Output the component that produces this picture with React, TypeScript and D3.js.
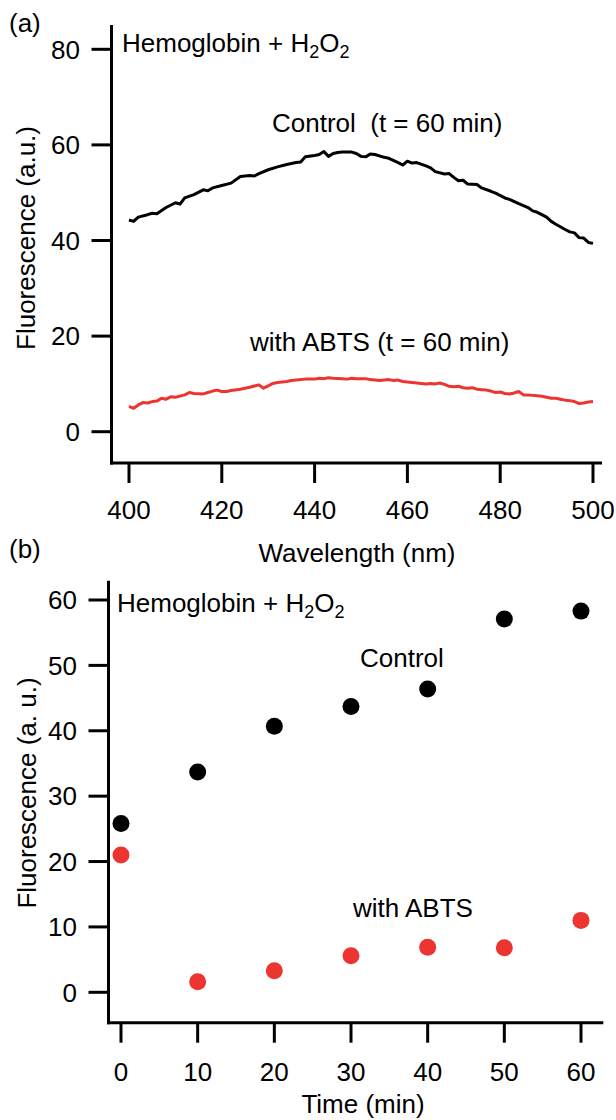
import React from "react";
import * as d3 from "d3";

// ---------- Panel (a) data: spectra at t = 60 min ----------
const wavelengthControl = [400,401,402,404,405,406,408,410,411,412,414,416,417,418,420,422,424,426,427,428,430,432,434,436,437,438,440,441,442,443,444,445,446,448,449,450,451,452,453,455,456,458,459,460,461,462,464,465,466,468,469,470,471,472,473,475,476,478,479,481,482,484,486,487,488,490,491,492,494,495,496,497,498,499,500];
const fluorControl = [44.3,44.0,44.9,45.4,45.7,45.6,46.9,47.9,47.6,48.9,49.6,50.6,50.4,51.0,51.5,52.0,53.4,53.6,53.5,54.0,54.8,55.4,55.9,56.3,56.4,57.5,57.8,58.0,58.6,57.6,58.2,58.4,58.5,58.5,58.2,57.6,57.5,58.1,58.0,57.4,57.2,56.3,55.8,56.6,56.2,56.3,55.6,55.2,54.4,53.9,54.0,53.2,52.5,52.6,51.8,51.7,51.0,50.3,49.9,48.9,48.6,47.7,46.9,46.2,45.9,44.9,44.0,43.4,42.3,41.8,41.6,40.6,40.5,39.6,39.4];

const wavelengthABTS = [400,401,402,403,404,405,406,407,408,409,410,412,413,414,416,417,418,419,420,421,422,424,425,426,428,429,430,431,432,434,435,436,438,440,441,442,443,444,446,447,448,449,450,451,452,453,454,455,456,457,458,459,460,461,462,463,464,465,466,467,468,469,470,471,472,473,474,475,476,477,478,479,480,481,482,483,484,485,486,487,488,489,490,491,492,493,494,495,496,497,498,499,500];
const fluorABTS = [5.3,4.9,5.6,6.1,6.0,6.3,6.4,7.0,6.8,7.3,7.2,7.7,8.2,8.0,7.9,8.2,8.5,8.7,8.4,8.4,8.6,8.9,9.1,9.3,9.8,9.1,9.6,10.1,10.3,10.5,10.7,10.8,11.0,11.0,11.2,11.1,11.3,11.2,11.1,11.0,11.2,11.1,11.1,11.1,10.9,10.8,10.7,10.8,10.9,10.7,10.8,10.5,10.4,10.3,10.2,10.1,10.0,10.1,10.0,10.2,9.9,9.5,9.4,9.5,9.2,9.1,9.2,8.9,8.8,8.7,8.5,8.2,8.3,8.0,7.9,8.1,8.4,7.7,7.7,7.6,7.5,7.4,7.2,7.0,7.0,6.8,6.6,6.5,6.3,5.9,6.0,6.2,6.3];

const wavelengthTicks = [400, 420, 440, 460, 480, 500];
const fluorTicksA = [0, 20, 40, 60, 80];

// ---------- Panel (b) data: time course ----------
const timeMin = [0, 10, 20, 30, 40, 50, 60];
const controlTime = [25.8, 33.7, 40.7, 43.7, 46.4, 57.1, 58.3];
const abtsTime = [21.0, 1.6, 3.3, 5.6, 6.9, 6.8, 11.0];
const timeTicks = [0, 10, 20, 30, 40, 50, 60];
const fluorTicksB = [0, 10, 20, 30, 40, 50, 60];

const FONT = "'Liberation Sans', Arial, Helvetica, sans-serif";
const RED = "#ec3430";

export default function App() {
  // panel a scales
  const xA = d3.scaleLinear().domain([400, 500]).range([129, 593]);
  const yA = d3.scaleLinear().domain([0, 80]).range([431.7, 49.3]);
  const axAx = 111.5; // y-axis x position
  const axAy = 463; // x-axis y position

  // panel b scales
  const xB = d3.scaleLinear().domain([0, 60]).range([121, 581]);
  const yB = d3.scaleLinear().domain([0, 60]).range([992.3, 600]);
  const axBx = 108.5;
  const axBy = 1022.7;

  const lineA = d3
    .line<number>()
    .x((_, i) => xA(wavelengthControl[i]))
    .y((d) => yA(d));
  const lineAB = d3
    .line<number>()
    .x((_, i) => xA(wavelengthABTS[i]))
    .y((d) => yA(d));

  const fs = 26;
  const sub = 18;
  const half = 9.3;
  const tickLen = 20;
  const sw = 3;

  return (
    <svg
      width={616}
      height={1120}
      style={{ position: "absolute", left: 0, top: 0, background: "#fff" }}
      fontFamily={FONT}
    >
      <rect x={0} y={0} width={616} height={1120} fill="#fff" />

      {/* ================= Panel (a) ================= */}
      <text x={9} y={32} fontSize={fs} fill="#000">(a)</text>

      {/* axes */}
      <line x1={axAx} y1={25} x2={axAx} y2={axAy + sw / 2} stroke="#000" strokeWidth={sw} />
      <line x1={axAx - sw / 2} y1={axAy} x2={602} y2={axAy} stroke="#000" strokeWidth={sw} />

      {fluorTicksA.map((t) => (
        <g key={"ya" + t}>
          <line x1={axAx - tickLen} x2={axAx} y1={yA(t)} y2={yA(t)} stroke="#000" strokeWidth={sw} />
          <text x={80} y={yA(t) + half} textAnchor="end" fontSize={fs} fill="#000">{t}</text>
        </g>
      ))}
      {wavelengthTicks.map((t) => (
        <g key={"xa" + t}>
          <line x1={xA(t)} x2={xA(t)} y1={axAy} y2={axAy + tickLen} stroke="#000" strokeWidth={sw} />
          <text x={xA(t)} y={510 + half} textAnchor="middle" fontSize={fs} fill="#000">{t}</text>
        </g>
      ))}

      <text x={357} y={562} textAnchor="middle" fontSize={fs} fill="#000">Wavelength (nm)</text>
      <text
        transform={`translate(35,238) rotate(-90)`}
        textAnchor="middle"
        fontSize={fs}
        fill="#000"
      >
        Fluorescence (a.u.)
      </text>

      {/* curves */}
      <path d={lineA(fluorControl) || ""} fill="none" stroke="#000" strokeWidth={3} strokeLinejoin="round" />
      <path d={lineAB(fluorABTS) || ""} fill="none" stroke={RED} strokeWidth={3} strokeLinejoin="round" />

      {/* annotations */}
      <text x={122} y={52} fontSize={fs} fill="#000">
        Hemoglobin + H<tspan fontSize={sub} dy={6}>2</tspan>
        <tspan dy={-6}>O</tspan>
        <tspan fontSize={sub} dy={6}>2</tspan>
      </text>
      <text x={272} y={131.5} fontSize={fs} fill="#000" style={{ whiteSpace: "pre" }}>
        {"Control  (t = 60 min)"}
      </text>
      <text x={250} y={350.5} fontSize={fs} fill="#000" style={{ whiteSpace: "pre" }}>
        {"with ABTS (t = 60 min)"}
      </text>

      {/* ================= Panel (b) ================= */}
      <text x={9} y={558} fontSize={fs} fill="#000">(b)</text>

      <line x1={axBx} y1={580.7} x2={axBx} y2={axBy + sw / 2} stroke="#000" strokeWidth={sw} />
      <line x1={axBx - sw / 2} y1={axBy} x2={603.3} y2={axBy} stroke="#000" strokeWidth={sw} />

      {fluorTicksB.map((t) => (
        <g key={"yb" + t}>
          <line x1={axBx - tickLen} x2={axBx} y1={yB(t)} y2={yB(t)} stroke="#000" strokeWidth={sw} />
          <text x={77} y={yB(t) + half} textAnchor="end" fontSize={fs} fill="#000">{t}</text>
        </g>
      ))}
      {timeTicks.map((t) => (
        <g key={"xb" + t}>
          <line x1={xB(t)} x2={xB(t)} y1={axBy} y2={axBy + tickLen} stroke="#000" strokeWidth={sw} />
          <text x={xB(t)} y={1071.5 + half} textAnchor="middle" fontSize={fs} fill="#000">{t}</text>
        </g>
      ))}

      <text x={363} y={1113} textAnchor="middle" fontSize={fs} fill="#000">Time (min)</text>
      <text
        transform={`translate(36,793) rotate(-90)`}
        textAnchor="middle"
        fontSize={fs}
        fill="#000"
      >
        Fluorescence (a. u.)
      </text>

      {timeMin.map((t, i) => (
        <circle key={"cb" + t} cx={xB(t)} cy={yB(controlTime[i])} r={8.5} fill="#000" />
      ))}
      {timeMin.map((t, i) => (
        <circle key={"rb" + t} cx={xB(t)} cy={yB(abtsTime[i])} r={8.5} fill={RED} />
      ))}

      <text x={117} y={612} fontSize={fs} fill="#000">
        Hemoglobin + H<tspan fontSize={sub} dy={6}>2</tspan>
        <tspan dy={-6}>O</tspan>
        <tspan fontSize={sub} dy={6}>2</tspan>
      </text>
      <text x={360} y={667} fontSize={fs} fill="#000">Control</text>
      <text x={353} y={917} fontSize={fs} fill="#000">with ABTS</text>
    </svg>
  );
}
